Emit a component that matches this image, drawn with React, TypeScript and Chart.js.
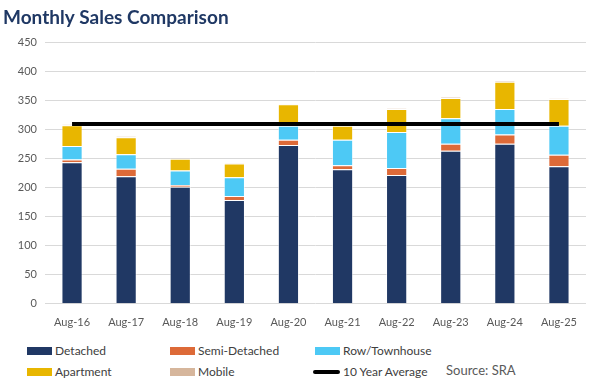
import React, { useEffect, useRef } from "react";
import { Chart, registerables } from "chart.js";

Chart.register(...registerables);

const categories = ["Aug-16", "Aug-17", "Aug-18", "Aug-19", "Aug-20", "Aug-21", "Aug-22", "Aug-23", "Aug-24", "Aug-25"];
const detached = [244, 220, 202, 179, 274, 232, 222, 264, 276, 237];
const semiDetached = [5, 13, 3, 7, 9, 7, 12, 12, 16, 20];
const rowTownhouse = [23, 25, 25, 32, 24, 44, 62, 44, 44, 50];
const apartment = [36, 29, 20, 24, 37, 24, 40, 35, 47, 46];
const mobile = [1, 2, 1, 1, 1, 1, 1, 1, 1, 1];
const tenYearAverage = [310, 310, 310, 310, 310, 310, 310, 310, 310, 310];
const yTicks = [0, 50, 100, 150, 200, 250, 300, 350, 400, 450];

const COLORS = {
  detached: "#203864",
  semi: "#DD6A38",
  row: "#4DC9F5",
  apt: "#E8B600",
  mobile: "#D6B69C",
  avg: "#000000",
};

const FONT = "Lato, 'Open Sans', sans-serif";

export default function App() {
  const canvasRef = useRef<HTMLCanvasElement | null>(null);

  useEffect(() => {
    const ctx = canvasRef.current!.getContext("2d")!;
    const barCommon = {
      type: "bar" as const,
      stack: "sales",
      borderColor: "rgba(255,255,255,0.55)",
      borderWidth: 1,
      barPercentage: 0.8,
      categoryPercentage: 0.49,
    };
    const chart = new Chart(ctx, {
      type: "bar",
      data: {
        labels: categories,
        datasets: [
          {
            type: "line" as const,
            label: "10 Year Average",
            data: tenYearAverage,
            borderColor: COLORS.avg,
            backgroundColor: COLORS.avg,
            borderWidth: 4,
            pointRadius: 0,
            stack: "avg",
            order: 0,
          } as any,
          { ...barCommon, label: "Detached", data: detached, backgroundColor: COLORS.detached, order: 1 },
          { ...barCommon, label: "Semi-Detached", data: semiDetached, backgroundColor: COLORS.semi, order: 1 },
          { ...barCommon, label: "Row/Townhouse", data: rowTownhouse, backgroundColor: COLORS.row, order: 1 },
          { ...barCommon, label: "Apartment", data: apartment, backgroundColor: COLORS.apt, order: 1 },
          { ...barCommon, label: "Mobile", data: mobile, backgroundColor: COLORS.mobile, order: 1 },
        ],
      },
      options: {
        animation: false,
        responsive: false,
        maintainAspectRatio: false,
        layout: { padding: { left: 3, right: 14, top: 0, bottom: 2 } },
        plugins: {
          legend: { display: false },
          tooltip: { enabled: false },
          title: {
            display: true,
            text: "Monthly Sales Comparison",
            align: "start",
            color: "#1F3864",
            font: { family: FONT, size: 19, weight: "bold" },
            padding: { top: 6, bottom: 14 },
          },
        },
        scales: {
          x: {
            stacked: true,
            grid: { display: false, drawTicks: false },
            border: { display: false },
            ticks: { color: "#595959", font: { family: FONT, size: 11 }, padding: 12 },
          },
          y: {
            stacked: true,
            min: 0,
            max: 450,
            afterBuildTicks: (scale: any) => {
              scale.ticks = yTicks.map((v) => ({ value: v }));
            },
            afterFit: (scale: any) => {
              scale.width = 42;
            },
            grid: { color: "#D9D9D9", lineWidth: 1, drawTicks: false },
            border: { display: false },
            ticks: { color: "#595959", font: { family: FONT, size: 11 }, padding: 8 },
          },
        },
      },
    });
    return () => chart.destroy();
  }, []);

  const legendText: React.CSSProperties = {
    position: "absolute",
    fontFamily: FONT,
    fontSize: 12,
    color: "#404040",
    lineHeight: "14px",
    whiteSpace: "nowrap",
  };
  const sw = (left: number, top: number, color: string, h = 8): React.CSSProperties => ({
    position: "absolute",
    left,
    top,
    width: 25,
    height: h,
    background: color,
  });

  const items = [
    { label: "Detached", color: COLORS.detached, x: 27, y: 351 },
    { label: "Semi-Detached", color: COLORS.semi, x: 170, y: 351 },
    { label: "Row/Townhouse", color: COLORS.row, x: 315, y: 351 },
    { label: "Apartment", color: COLORS.apt, x: 27, y: 372 },
    { label: "Mobile", color: COLORS.mobile, x: 170, y: 372 },
  ];

  return (
    <div style={{ position: "fixed", left: 0, top: 0, width: 600, height: 380, background: "#fff", overflow: "hidden" }}>
      <canvas ref={canvasRef} width={600} height={343} style={{ position: "absolute", left: 0, top: 0, width: 600, height: 343 }} />
      {items.map((it) => (
        <React.Fragment key={it.label}>
          <div style={sw(it.x, it.y - 4, it.color)} />
          <div style={{ ...legendText, left: it.x + 28, top: it.y - 7 }}>{it.label}</div>
        </React.Fragment>
      ))}
      <div style={{ position: "absolute", left: 313, top: 370, width: 27, height: 4, background: "#000", borderRadius: 2 }} />
      <div style={{ ...legendText, left: 343, top: 365 }}>10 Year Average</div>
      <div style={{ ...legendText, left: 446, top: 363, fontSize: 13, color: "#595959" }}>Source: SRA</div>
    </div>
  );
}
